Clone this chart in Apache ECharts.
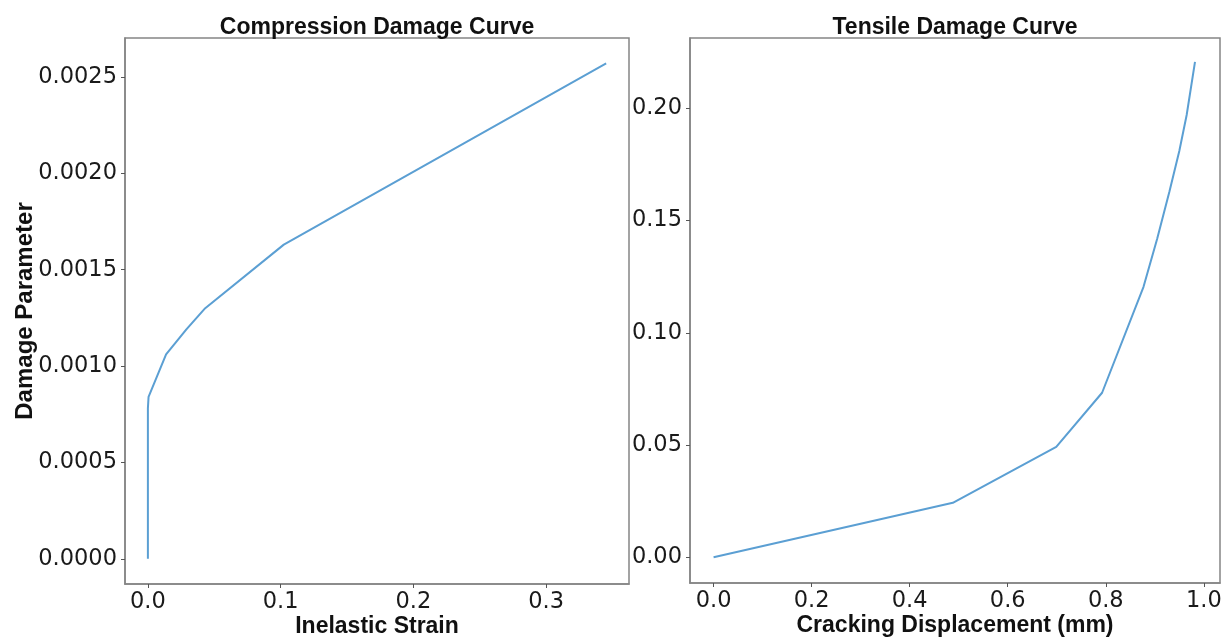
<!DOCTYPE html>
<html>
<head>
<meta charset="utf-8">
<script src="https://cdn.jsdelivr.net/npm/echarts@6/dist/echarts.min.js"></script>
<style>
html,body{margin:0;padding:0;background:#fff;}
#chart{width:1226px;height:637px;}
</style>
</head>
<body>
<div id="chart"></div>
<script>
// Compression damage curve
const compStrain = [0, 0, 0.0005, 0.0137, 0.029, 0.0432, 0.1024, 0.3453];
const compDamage = [0, 0.00078, 0.00084, 0.00106, 0.00119, 0.0013, 0.00163, 0.00257];
// Tensile damage curve
const crackDisp = [0, 0.488, 0.699, 0.7925, 0.877, 0.905, 0.93, 0.95, 0.965, 0.982];
const tensDamage = [0, 0.0243, 0.0492, 0.0733, 0.1205, 0.142, 0.163, 0.181, 0.197, 0.2207];
// Tick values
const compXTicks = [0, 0.1, 0.2, 0.3];
const compYTicks = [0, 0.0005, 0.001, 0.0015, 0.002, 0.0025];
const tensXTicks = [0, 0.2, 0.4, 0.6, 0.8, 1.0];
const tensYTicks = [0, 0.05, 0.1, 0.15, 0.2];
// Texts
const titles = ['Compression Damage Curve', 'Tensile Damage Curve'];
const xNames = ['Inelastic Strain', 'Cracking Displacement (mm)'];
const yName = 'Damage Parameter';

const pairs = (xs, ys) => xs.map((x, i) => [x, ys[i]]);

const tickFont = {fontFamily: 'DejaVu Sans', fontSize: 22.5, color: '#1a1a1a'};
const boldFont = {fontFamily: 'Liberation Sans', fontWeight: 'bold', fontSize: 23, color: '#111'};
const frameColor = '#858585';
const lineColor = '#5b9fd3';

function xAxisCfg(gi, min, max, ticks, dec, name) {
  return {
    type: 'value', gridIndex: gi, min: min, max: max,
    name: name, nameLocation: 'middle', nameGap: 31, nameMoveOverlap: false, nameTextStyle: boldFont,
    axisLine: {show: true, onZero: false, lineStyle: {color: frameColor, width: 1.5}},
    axisTick: {show: true, length: 4, customValues: ticks, lineStyle: {color: '#555', width: 1}},
    axisLabel: Object.assign({customValues: ticks, margin: 7, formatter: v => v.toFixed(dec)}, tickFont),
    splitLine: {show: false}
  };
}
function yAxisCfg(gi, min, max, ticks, dec, name) {
  const c = {
    type: 'value', gridIndex: gi, min: min, max: max,
    axisLine: {show: true, onZero: false, lineStyle: {color: frameColor, width: 1.5}},
    axisTick: {show: true, length: 4, customValues: ticks, lineStyle: {color: '#555', width: 1}},
    axisLabel: Object.assign({customValues: ticks, margin: 8, formatter: v => v.toFixed(dec)}, tickFont),
    splitLine: {show: false}
  };
  if (name) {
    c.name = name; c.nameLocation = 'middle'; c.nameGap = 88; c.nameMoveOverlap = false;
    c.nameTextStyle = Object.assign({}, boldFont, {fontSize: 24});
  }
  return c;
}

const chart = echarts.init(document.getElementById('chart'), null, {renderer: 'canvas'});
chart.setOption({
  animation: false,
  backgroundColor: '#fff',
  title: [
    {text: titles[0], left: 377, top: 16, textAlign: 'center', padding: 0, textStyle: boldFont},
    {text: titles[1], left: 955, top: 16, textAlign: 'center', padding: 0, textStyle: boldFont}
  ],
  grid: [
    {left: 125, top: 38, width: 504, height: 546, outerBoundsMode: 'none', containLabel: false, show: true, borderColor: frameColor, borderWidth: 1.5, backgroundColor: 'transparent'},
    {left: 690, top: 38, width: 530, height: 545, outerBoundsMode: 'none', containLabel: false, show: true, borderColor: frameColor, borderWidth: 1.5, backgroundColor: 'transparent'}
  ],
  xAxis: [
    xAxisCfg(0, -0.01725, 0.3625, compXTicks, 1, xNames[0]),
    xAxisCfg(1, -0.0481, 1.033, tensXTicks, 1, xNames[1])
  ],
  yAxis: [
    yAxisCfg(0, -0.000131, 0.002702, compYTicks, 4, yName),
    yAxisCfg(1, -0.01144, 0.2313, tensYTicks, 2, null)
  ],
  series: [
    {type: 'line', xAxisIndex: 0, yAxisIndex: 0, data: pairs(compStrain, compDamage), showSymbol: false, symbol: 'none',
     lineStyle: {color: lineColor, width: 2}, itemStyle: {color: lineColor}},
    {type: 'line', xAxisIndex: 1, yAxisIndex: 1, data: pairs(crackDisp, tensDamage), showSymbol: false, symbol: 'none',
     lineStyle: {color: lineColor, width: 2}, itemStyle: {color: lineColor}}
  ]
});
</script>
</body>
</html>
